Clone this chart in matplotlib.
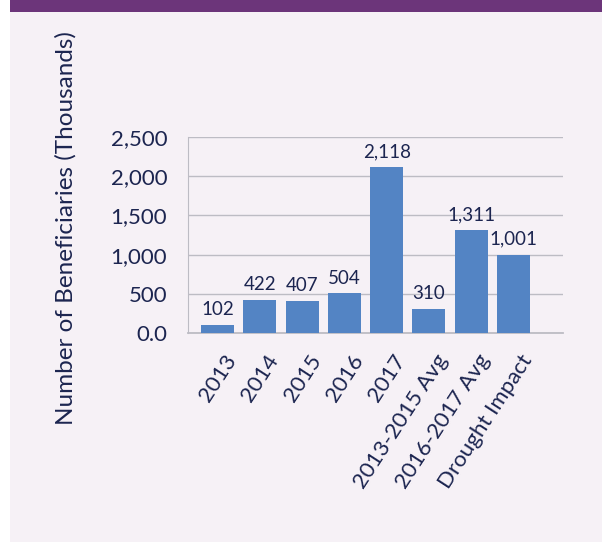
import matplotlib
matplotlib.use("Agg")
import matplotlib.pyplot as plt
import matplotlib.transforms as mtransforms
from matplotlib.patches import Rectangle
from matplotlib.ticker import FuncFormatter

categories = ["2013", "2014", "2015", "2016", "2017",
              "2013-2015 Avg", "2016-2017 Avg", "Drought Impact"]
values = [102, 422, 407, 504, 2118, 310, 1311, 1001]
y_ticks = [0, 500, 1000, 1500, 2000, 2500]

BAR = "#5384c4"
TEXT = "#1c2550"
GRID = "#bdbcc4"
PANEL = "#f6f1f6"
BAND = "#6c357a"

plt.rcParams["font.family"] = ["Lato", "DejaVu Sans"]

W, H = 602, 543
fig = plt.figure(figsize=(W / 100, H / 100), dpi=100)
fig.patch.set_facecolor("white")

# panel background and header band
fig.patches.append(Rectangle((10 / W, 1 / H), (W - 10) / W, (H - 13) / H,
                             transform=fig.transFigure, facecolor=PANEL,
                             edgecolor="none", zorder=-2))
fig.patches.append(Rectangle((10 / W, (H - 12) / H), (W - 10) / W, 12 / H,
                             transform=fig.transFigure, facecolor=BAND,
                             edgecolor="none", zorder=-2))

left, right = 188, 563
top, bottom = 137, 333
ax = fig.add_axes([left / W, 1 - bottom / H, (right - left) / W, (bottom - top) / H])
ax.set_facecolor("none")
ax.set_zorder(2)

x = list(range(len(categories)))
ax.bar(x, values, width=0.78, color=BAR, zorder=3)
for xi, v in zip(x, values):
    ax.annotate(f"{v:,}", (xi, v), xytext=(0, 5), textcoords="offset points",
                ha="center", va="bottom", fontsize=13.5, color=TEXT, zorder=4)

ax.set_xlim(-0.70, 8.17)
ax.set_ylim(0, 2500)
ax.set_yticks(y_ticks)
ax.yaxis.set_major_formatter(FuncFormatter(lambda v, p: "0.0" if v == 0 else f"{int(v):,}"))
ax.grid(axis="y", color=GRID, linewidth=1.0, zorder=1)
ax.set_axisbelow(True)

for s in ["top", "right"]:
    ax.spines[s].set_visible(False)
ax.spines["left"].set_color(GRID)
ax.spines["bottom"].set_color(GRID)
ax.spines["bottom"].set_linewidth(1.3)

ax.tick_params(axis="y", length=0, pad=15, labelsize=16, labelcolor=TEXT)
ax.tick_params(axis="x", length=0, pad=13, labelsize=16, labelcolor=TEXT)
ax.set_xticks(x)
ax.set_xticklabels(categories, rotation=57, ha="right", va="top", rotation_mode="anchor")
shift = mtransforms.ScaledTranslation(6 / 100, 0, fig.dpi_scale_trans)
for lbl in ax.get_xticklabels():
    lbl.set_transform(lbl.get_transform() + shift)

fig.text(66 / W, 1 - 228 / H, "Number of Beneficiaries (Thousands)",
         rotation=90, ha="center", va="center", fontsize=17.5, color=TEXT)

fig.savefig("out.png", dpi=100, facecolor=fig.get_facecolor())
